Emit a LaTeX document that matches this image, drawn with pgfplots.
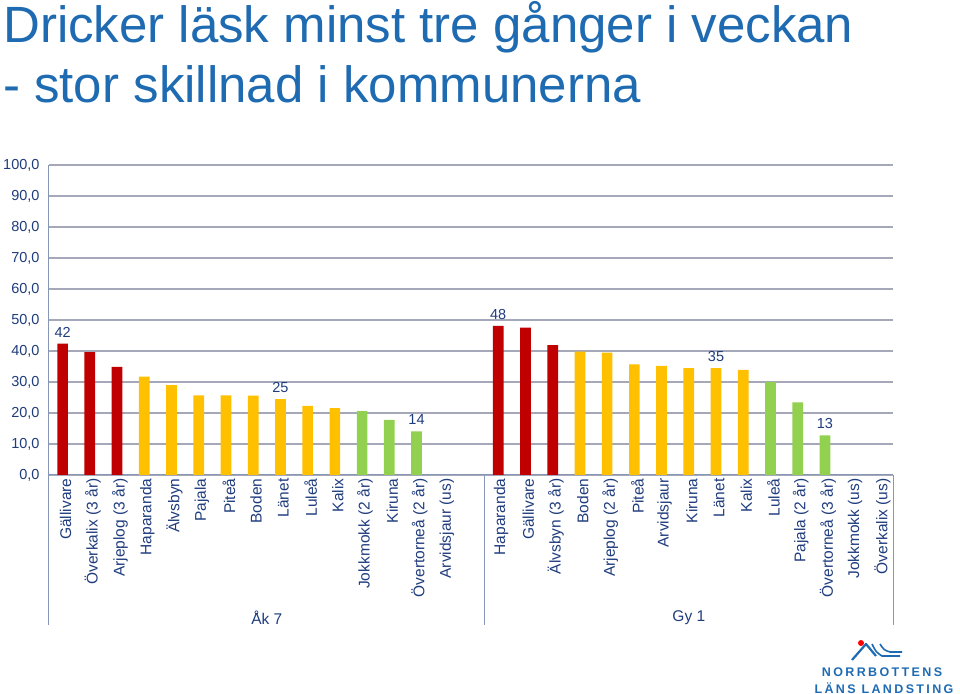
\documentclass[border=0pt]{standalone}
\usepackage{fontspec}
\setmainfont{Liberation Sans}
\usepackage{pgfplots}
\pgfplotsset{compat=1.18}
\definecolor{titleblue}{RGB}{31,107,178}
\definecolor{navy}{RGB}{31,60,125}
\definecolor{barred}{RGB}{192,0,0}
\definecolor{baryel}{RGB}{255,192,0}
\definecolor{bargrn}{RGB}{146,208,80}
\definecolor{gridcol}{RGB}{165,168,185}
\definecolor{axiscol}{RGB}{134,150,180}
\begin{document}
\begin{tikzpicture}
\path[use as bounding box] (0,0) rectangle (960bp,694bp);
% title
\node[anchor=base west, inner sep=0, text=titleblue, font=\fontsize{51bp}{60bp}\selectfont] at (3bp,651bp) {Dricker läsk minst tre gånger i veckan};
\node[anchor=base west, inner sep=0, text=titleblue, font=\fontsize{51bp}{60bp}\selectfont] at (3bp,591bp) {- stor skillnad i kommunerna};

\begin{axis}[
    at={(49bp,219bp)}, anchor=south west,
    scale only axis, width=844bp, height=310bp,
    xmin=-0.5, xmax=30.5, ymin=0, ymax=100,
    ytick={0,10,...,100},
    xtick={0,...,14,16,17,...,30},
    xticklabels={Gällivare, Överkalix (3 år), Arjeplog (3 år), Haparanda, Älvsbyn, Pajala, Piteå, Boden, Länet, Luleå, Kalix, Jokkmokk (2 år), Kiruna, Övertorneå (2 år), Arvidsjaur (us),
        Haparanda, Gällivare, Älvsbyn (3 år), Boden, Arjeplog (2 år), Piteå, Arvidsjaur, Kiruna, Länet, Kalix, Luleå, Pajala (2 år), Övertorneå (3 år), Jokkmokk (us), Överkalix (us)},
    xticklabel style={rotate=90, anchor=east, yshift=-3bp, text=navy, font=\fontsize{15.5bp}{17bp}\selectfont},
    yticklabel style={/pgf/number format/fixed, /pgf/number format/fixed zerofill,
        /pgf/number format/precision=1, /pgf/number format/use comma,
        /pgf/number format/assume math mode=true,
        xshift=-6bp, text=navy, font=\fontsize{14.5bp}{17bp}\selectfont},
    major tick length=0pt,
    axis x line*=bottom, axis y line*=left,
    axis line style={axiscol, line width=1bp},
    ymajorgrids, grid style={gridcol, line width=1.2bp},
    clip=false,
]
% Åk 7
\addplot[ybar, bar shift=0pt, bar width=10.7bp, fill=barred, draw=none] coordinates {(0,42.4) (1,39.6) (2,34.9)};
\addplot[ybar, bar shift=0pt, bar width=10.7bp, fill=baryel, draw=none] coordinates {(3,31.7) (4,29.0) (5,25.7) (6,25.7) (7,25.6) (8,24.5) (9,22.3) (10,21.6)};
\addplot[ybar, bar shift=0pt, bar width=10.7bp, fill=bargrn, draw=none] coordinates {(11,20.6) (12,17.8) (13,14.1)};
% Gy 1
\addplot[ybar, bar shift=0pt, bar width=10.7bp, fill=barred, draw=none] coordinates {(16,48.1) (17,47.5) (18,41.9)};
\addplot[ybar, bar shift=0pt, bar width=10.7bp, fill=baryel, draw=none] coordinates {(19,39.8) (20,39.5) (21,35.7) (22,35.2) (23,34.5) (24,34.5) (25,33.9)};
\addplot[ybar, bar shift=0pt, bar width=10.7bp, fill=bargrn, draw=none] coordinates {(26,30.0) (27,23.4) (28,12.8)};
% data labels
\addplot[draw=none, mark=none, point meta=explicit symbolic, nodes near coords,
    every node near coord/.append style={anchor=south, yshift=3bp, text=navy, font=\fontsize{14.5bp}{17bp}\selectfont}]
    coordinates {(0,42.4)[42] (8,24.5)[25] (13,14.1)[14] (16,48.1)[48] (24,34.5)[35] (28,12.8)[13]};
% group separators and labels
\draw[axiscol, line width=1bp] (axis cs:-0.5,0) -- ++(0pt,-150bp);
\draw[axiscol, line width=1bp] (axis cs:15.5,0) -- ++(0pt,-150bp);
\draw[axiscol, line width=1bp] (axis cs:30.5,0) -- ++(0pt,-150bp);
\node[text=navy, font=\fontsize{15.5bp}{17bp}\selectfont, yshift=-143bp] at (axis cs:7.5,0) {Åk 7};
\node[text=navy, font=\fontsize{15.5bp}{17bp}\selectfont, yshift=-143bp] at (axis cs:23,0) {Gy 1};
\end{axis}

% logo
\draw[titleblue, line width=2.2bp, line join=round] (852bp,34bp) -- (866bp,50bp) -- (876bp,38bp);
\draw[titleblue, line width=1.6bp] (872bp,50bp) .. controls (876bp,42bp) .. (882bp,38bp) -- (900bp,38bp);
\draw[titleblue, line width=1.6bp] (880bp,50bp) .. controls (884bp,44bp) .. (890bp,42bp) -- (902bp,42bp);
\fill[red] (861bp,51bp) circle (3bp);
\node[text=titleblue, font={\fontsize{12.5bp}{14bp}\selectfont\bfseries\addfontfeatures{LetterSpace=19}}] at (882bp,22bp) {NORRBOTTENS};
\node[text=titleblue, font={\fontsize{12.5bp}{14bp}\selectfont\bfseries\addfontfeatures{LetterSpace=19}}] at (884bp,6bp) {LÄNS LANDSTING};
\end{tikzpicture}
\end{document}
